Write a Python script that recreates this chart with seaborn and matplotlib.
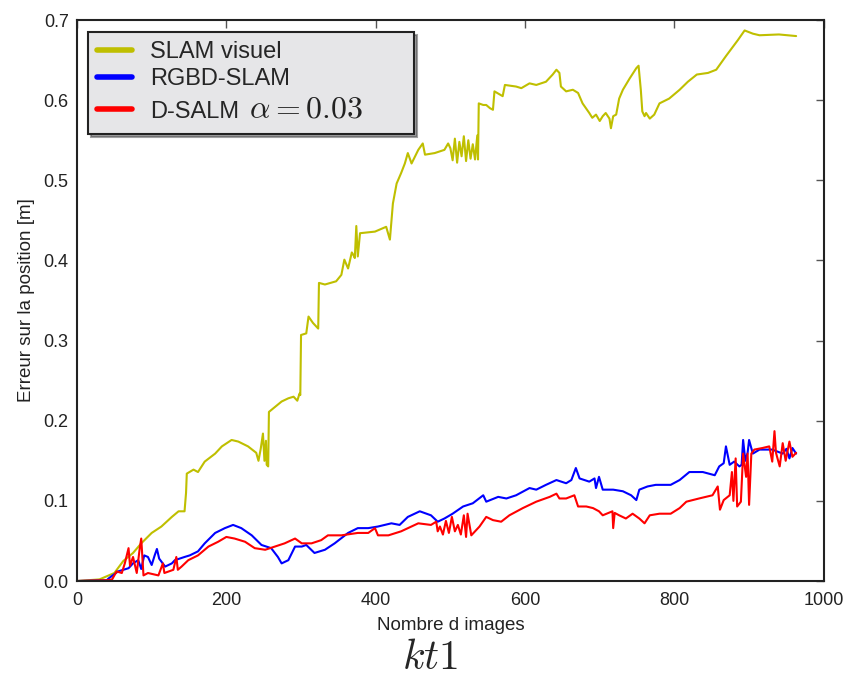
import numpy as np
import pandas as pd
import matplotlib
matplotlib.use("Agg")
import matplotlib.pyplot as plt
from matplotlib.offsetbox import TextArea, HPacker, DrawingArea
import seaborn as sns

# ---------------- data ----------------
slam_x = [0, 30, 50, 62, 75, 86, 100, 113, 127, 136, 144, 146, 147, 156, 162, 171, 185, 194,
          207, 216, 229, 240, 243, 246, 249, 251, 253, 254, 256, 257, 274, 283, 290, 295, 298,
          299, 300, 307, 310, 316, 323, 324, 332, 347, 354, 358, 363, 368, 370, 372, 374, 376,
          379, 399, 414, 419, 423, 428, 434, 439, 443, 448, 457, 463, 466, 479, 492, 497, 500,
          503, 506, 509, 512, 515, 518, 521, 524, 527, 530, 533, 536, 537, 538, 544, 548, 553,
          557, 559, 570, 573, 588, 595, 606, 615, 628, 637, 642, 646, 648, 655, 664, 671, 677,
          686, 690, 695, 700, 704, 708, 713, 715, 718, 722, 726, 731, 740, 749, 752, 755, 757,
          760, 762, 767, 773, 780, 793, 807, 818, 830, 845, 856, 869, 885, 894, 905, 914, 940, 963]
slam_y = [0.000, 0.002, 0.010, 0.025, 0.035, 0.047, 0.060, 0.068, 0.080, 0.087, 0.087, 0.110,
          0.134, 0.139, 0.136, 0.149, 0.159, 0.168, 0.176, 0.174, 0.168, 0.160, 0.150, 0.165,
          0.184, 0.150, 0.175, 0.145, 0.143, 0.211, 0.224, 0.228, 0.230, 0.225, 0.234, 0.232,
          0.307, 0.309, 0.330, 0.322, 0.315, 0.372, 0.370, 0.374, 0.382, 0.401, 0.390, 0.410,
          0.407, 0.403, 0.443, 0.405, 0.434, 0.436, 0.442, 0.426, 0.471, 0.496, 0.509, 0.521,
          0.534, 0.521, 0.538, 0.546, 0.532, 0.534, 0.538, 0.546, 0.540, 0.525, 0.552, 0.522,
          0.548, 0.530, 0.555, 0.524, 0.550, 0.527, 0.545, 0.526, 0.556, 0.526, 0.596, 0.594,
          0.594, 0.590, 0.588, 0.611, 0.605, 0.619, 0.617, 0.615, 0.621, 0.619, 0.623, 0.632,
          0.638, 0.634, 0.617, 0.611, 0.613, 0.609, 0.596, 0.584, 0.578, 0.582, 0.574, 0.580,
          0.584, 0.577, 0.565, 0.580, 0.582, 0.602, 0.613, 0.627, 0.640, 0.643, 0.613, 0.586,
          0.580, 0.584, 0.577, 0.582, 0.596, 0.602, 0.613, 0.623, 0.632, 0.634, 0.638, 0.655,
          0.675, 0.687, 0.683, 0.681, 0.682, 0.680]

rgbd_x = [0, 40, 42, 55, 69, 75, 82, 86, 90, 95, 100, 104, 107, 110, 118, 127, 131, 144, 151,
          162, 171, 185, 198, 209, 220, 234, 247, 260, 269, 274, 283, 292, 301, 307, 318, 332,
          345, 363, 376, 390, 403, 421, 432, 443, 459, 474, 483, 492, 503, 517, 530, 544, 548,
          564, 575, 588, 606, 615, 628, 642, 655, 662, 668, 673, 686, 693, 695, 699, 704, 718,
          731, 742, 749, 753, 764, 775, 795, 807, 820, 838, 854, 860, 866, 869, 874, 880, 887,
          890, 892, 895, 898, 900, 905, 914, 931, 945, 950, 954, 958, 963]
rgbd_y = [0.000, 0.001, 0.003, 0.012, 0.016, 0.022, 0.026, 0.015, 0.032, 0.030, 0.020, 0.032,
          0.040, 0.028, 0.018, 0.022, 0.026, 0.030, 0.032, 0.037, 0.047, 0.060, 0.066, 0.070,
          0.066, 0.057, 0.045, 0.041, 0.030, 0.022, 0.026, 0.043, 0.043, 0.045, 0.035, 0.039,
          0.047, 0.060, 0.066, 0.066, 0.068, 0.072, 0.070, 0.080, 0.087, 0.082, 0.074, 0.078,
          0.084, 0.093, 0.097, 0.107, 0.099, 0.105, 0.103, 0.107, 0.116, 0.114, 0.120, 0.126,
          0.122, 0.126, 0.141, 0.128, 0.124, 0.128, 0.116, 0.130, 0.114, 0.114, 0.112, 0.107,
          0.101, 0.114, 0.118, 0.120, 0.120, 0.126, 0.136, 0.136, 0.132, 0.143, 0.147, 0.168,
          0.145, 0.149, 0.143, 0.145, 0.176, 0.150, 0.160, 0.176, 0.159, 0.164, 0.164, 0.159,
          0.165, 0.153, 0.166, 0.159]

dsalm_x = [0, 40, 47, 53, 60, 64, 69, 71, 75, 80, 84, 86, 89, 95, 109, 115, 117, 129, 133, 135,
           140, 149, 162, 176, 189, 200, 211, 225, 238, 252, 265, 278, 292, 301, 314, 327, 336,
           354, 376, 390, 399, 403, 417, 434, 457, 474, 481, 483, 486, 490, 494, 498, 502, 506,
           510, 514, 518, 521, 523, 528, 539, 548, 557, 568, 579, 597, 615, 633, 642, 646, 655,
           666, 671, 682, 691, 699, 704, 717, 718, 720, 726, 735, 744, 753, 760, 767, 780, 795,
           807, 816, 833, 851, 858, 861, 866, 874, 877, 879, 882, 884, 889, 892, 896, 898, 900,
           903, 907, 918, 927, 931, 934, 936, 941, 945, 949, 954, 958, 963]
dsalm_y = [0.000, 0.001, 0.002, 0.012, 0.010, 0.022, 0.041, 0.019, 0.030, 0.010, 0.041, 0.053,
           0.007, 0.010, 0.007, 0.022, 0.010, 0.014, 0.030, 0.014, 0.018, 0.026, 0.032, 0.043,
           0.049, 0.055, 0.053, 0.049, 0.041, 0.039, 0.043, 0.047, 0.053, 0.047, 0.047, 0.051,
           0.057, 0.057, 0.060, 0.060, 0.066, 0.057, 0.057, 0.062, 0.072, 0.070, 0.074, 0.062,
           0.068, 0.058, 0.075, 0.060, 0.080, 0.062, 0.070, 0.058, 0.082, 0.055, 0.084, 0.057,
           0.068, 0.080, 0.076, 0.074, 0.082, 0.091, 0.099, 0.105, 0.109, 0.103, 0.103, 0.107,
           0.093, 0.093, 0.091, 0.087, 0.082, 0.087, 0.066, 0.085, 0.082, 0.078, 0.084, 0.078,
           0.072, 0.082, 0.084, 0.084, 0.091, 0.099, 0.103, 0.107, 0.118, 0.089, 0.101, 0.107,
           0.136, 0.100, 0.153, 0.093, 0.099, 0.159, 0.130, 0.159, 0.095, 0.159, 0.164, 0.166,
           0.168, 0.149, 0.187, 0.160, 0.143, 0.172, 0.150, 0.174, 0.155, 0.160]

labels = ["SLAM visuel", "RGBD-SLAM", "D-SALM"]
alpha_label = r"$\alpha = 0.03$"
colors = ["#bfbf00", "#0000ff", "#ff0000"]
x_ticks = [0, 200, 400, 600, 800, 1000]
y_ticks = [0.0, 0.1, 0.2, 0.3, 0.4, 0.5, 0.6, 0.7]

# ---------------- style ----------------
sns.set_theme(style="white")
plt.rcParams["font.family"] = ["Liberation Sans", "DejaVu Sans"]
plt.rcParams["mathtext.fontset"] = "cm"

fig = plt.figure(figsize=(8.51, 6.79), dpi=100)
ax = fig.add_axes([0.0905, 0.1443, 0.8775, 0.8262])

series = [(slam_x, slam_y), (rgbd_x, rgbd_y), (dsalm_x, dsalm_y)]
for (xs, ys), lab, col in zip(series, labels, colors):
    df = pd.DataFrame({"x": xs, "y": ys})
    sns.lineplot(data=df, x="x", y="y", ax=ax, color=col, lw=1.5, label=lab,
                 estimator=None, sort=False)

ax.set_xlim(0, 1000)
ax.set_ylim(0, 0.7)
ax.set_xticks(x_ticks)
ax.set_yticks(y_ticks)
ax.set_yticklabels([f"{v:.1f}" for v in y_ticks])
ax.tick_params(direction="in", length=6, width=1, color="#555555",
               top=True, right=True, labelsize=13, labelcolor="#222222", pad=6)
ax.tick_params(axis="x", pad=8)
for sp in ax.spines.values():
    sp.set_visible(True)
    sp.set_color("#222222")
    sp.set_linewidth(1.5)

ax.set_xlabel("Nombre d images", fontsize=13.5, color="#222222", labelpad=6)
ax.set_ylabel("Erreur sur la position [m]", fontsize=13.5, color="#222222", labelpad=6)

handles, _ = ax.get_legend_handles_labels()
leg = ax.legend(handles, labels, loc="upper left", fontsize=17, frameon=True, shadow=True,
                fancybox=False, borderpad=0.4, handlelength=1.45, handletextpad=0.8,
                labelspacing=0.2, borderaxespad=0.0, bbox_to_anchor=(0.0145, 0.979))
leg.get_frame().set_facecolor("#e6e6e8")
leg.get_frame().set_edgecolor("#222222")
leg.get_frame().set_linewidth(1.5)
leg.get_frame().set_alpha(1)
for h in leg.get_lines():
    h.set_linewidth(4)

# larger math part appended to the third legend entry (plus right padding like the reference)
placed = False
try:
    column = leg._legend_handle_box.get_children()[0]
    row = column.get_children()[2]
    kids = row.get_children()
    math_area = TextArea(alpha_label, textprops=dict(fontsize=23, color="#222222"))
    pad_area = DrawingArea(23, 1, 0, 0)
    combo = HPacker(children=[kids[1], math_area, pad_area], sep=7, pad=0, align="baseline")
    combo.set_figure(fig)
    math_area.set_figure(fig)
    pad_area.set_figure(fig)
    kids[1] = combo
    placed = True
except Exception:
    placed = False
if not placed:
    ax.annotate(alpha_label, xy=(1, 0), xycoords=leg.get_texts()[2],
                xytext=(5, -2.5), textcoords="offset points",
                fontsize=23, ha="left", va="bottom", zorder=10, annotation_clip=False)

fig.text(0.505, 0.014, r"$kt1$", fontsize=30, ha="center", va="baseline")

fig.savefig("out.png", dpi=100, facecolor="white")
